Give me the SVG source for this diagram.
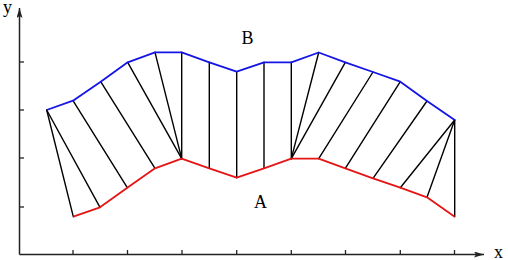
<svg xmlns="http://www.w3.org/2000/svg" width="508" height="260" viewBox="0 0 508 260">
<style>
.ax{stroke:#222;stroke-width:1.5;fill:none}
.tk{stroke:#222;stroke-width:1.3}
.lk{stroke:#000;stroke-width:1.4;stroke-linecap:round}
.cb{stroke:#1414e6;stroke-width:1.8;fill:none;stroke-linejoin:round}
.ca{stroke:#e61414;stroke-width:1.8;fill:none;stroke-linejoin:round}
.lb{font-family:"Liberation Serif","Times New Roman",serif;font-size:18px;fill:#000}
</style>
<defs>
<marker id="ar" viewBox="0 0 10 6" refX="10" refY="3" markerWidth="10" markerHeight="6" markerUnits="userSpaceOnUse" orient="auto">
<path d="M0,0 L10,3 L0,6 L2,3 Z" fill="#222"/>
</marker>
</defs>
<g id="axes">
<path class="ax" d="M19.5,254.5 L19.5,8" marker-end="url(#ar)"/>
<path class="ax" d="M19.5,254.5 L484,254.5" marker-end="url(#ar)"/>
<g class="tk">
<line x1="19.5" y1="62" x2="24" y2="62"/>
<line x1="19.5" y1="110" x2="24" y2="110"/>
<line x1="19.5" y1="158" x2="24" y2="158"/>
<line x1="19.5" y1="207" x2="24" y2="207"/>
<line x1="73" y1="254.5" x2="73" y2="250"/>
<line x1="127.5" y1="254.5" x2="127.5" y2="250"/>
<line x1="182" y1="254.5" x2="182" y2="250"/>
<line x1="236.7" y1="254.5" x2="236.7" y2="250"/>
<line x1="291.3" y1="254.5" x2="291.3" y2="250"/>
<line x1="345.5" y1="254.5" x2="345.5" y2="250"/>
<line x1="400.3" y1="254.5" x2="400.3" y2="250"/>
<line x1="454.5" y1="254.5" x2="454.5" y2="250"/>
</g>
<text class="lb" x="3" y="13">y</text>
<text class="lb" x="494" y="257.5">x</text>
</g>
<g id="links">
<line class="lk" x1="46.7" y1="110" x2="73.3" y2="216.7"/>
<line class="lk" x1="46.7" y1="110" x2="100" y2="207.3"/>
<line class="lk" x1="73" y1="100.7" x2="127.3" y2="187.7"/>
<line class="lk" x1="100.7" y1="81.7" x2="155" y2="168.3"/>
<line class="lk" x1="127.7" y1="62.3" x2="181.7" y2="158.7"/>
<line class="lk" x1="155" y1="52.3" x2="181.7" y2="158.7"/>
<line class="lk" x1="181.7" y1="52.3" x2="181.7" y2="158.7"/>
<line class="lk" x1="209.3" y1="62.3" x2="209.3" y2="168.3"/>
<line class="lk" x1="236.7" y1="71.7" x2="236.7" y2="177.7"/>
<line class="lk" x1="264" y1="62.3" x2="264" y2="168.3"/>
<line class="lk" x1="291.3" y1="62.3" x2="291.3" y2="158.7"/>
<line class="lk" x1="318.7" y1="52.5" x2="291.3" y2="158.7"/>
<line class="lk" x1="345.3" y1="62.3" x2="291.3" y2="158.7"/>
<line class="lk" x1="373" y1="72" x2="318.7" y2="158.7"/>
<line class="lk" x1="400.3" y1="81.7" x2="345.3" y2="168.3"/>
<line class="lk" x1="427" y1="101" x2="373" y2="178.3"/>
<line class="lk" x1="454.7" y1="120" x2="400.3" y2="187.7"/>
<line class="lk" x1="454.7" y1="120" x2="427" y2="197.3"/>
<line class="lk" x1="454.7" y1="120" x2="454.7" y2="216.7"/>
</g>
<g id="curveB">
<polyline class="cb" points="46.7,110 73,100.7 100.7,81.7 127.7,62.3 155,52.3 181.7,52.3 209.3,62.3 236.7,71.7 264,62.3 291.3,62.3 318.7,52.5 345.3,62.3 373,72 400.3,81.7 427,101 454.7,120"/>
<text class="lb" x="241.5" y="44">B</text>
</g>
<g id="curveA">
<polyline class="ca" points="73.3,216.7 100,207.3 127.3,187.7 155,168.3 181.7,158.7 209.3,168.3 236.7,177.7 264,168.3 291.3,158.7 318.7,158.7 345.3,168.3 373,178.3 400.3,187.7 427,197.3 454.7,216.7"/>
<text class="lb" x="254" y="208.3">A</text>
</g>
</svg>
